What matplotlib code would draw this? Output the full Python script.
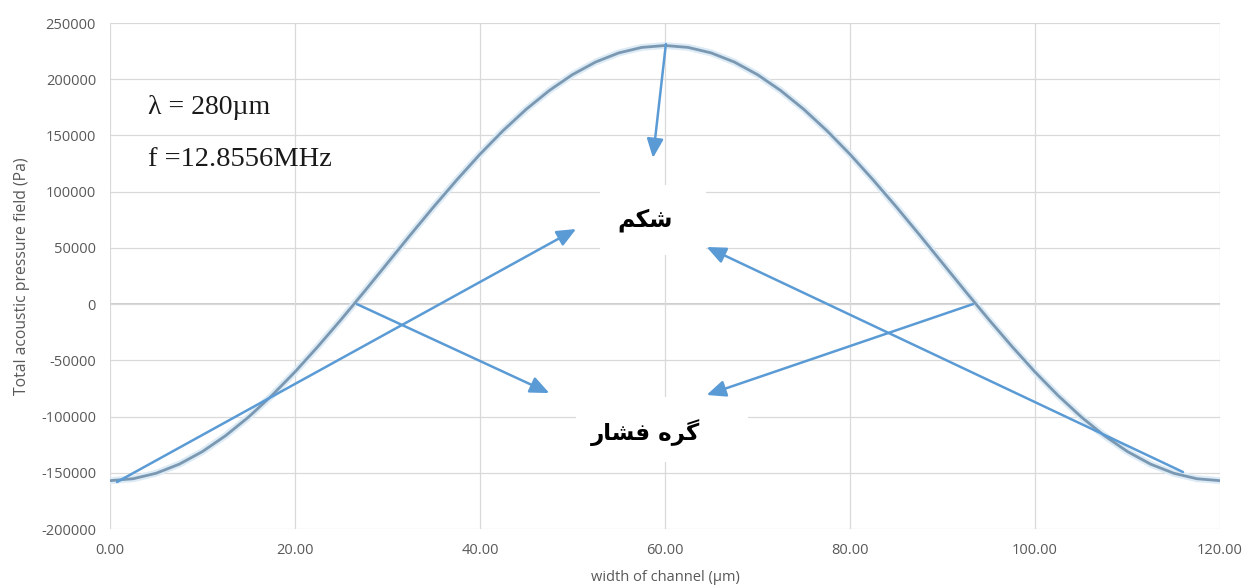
import matplotlib
matplotlib.use("Agg")
import matplotlib.pyplot as plt
from matplotlib.patches import Rectangle
from matplotlib.ticker import FuncFormatter, MultipleLocator

# standing-wave pressure across the channel width
width_um = [0.0, 2.5, 5.0, 7.5, 10.0, 12.5, 15.0, 17.5, 20.0, 22.5, 25.0, 27.5,
            30.0, 32.5, 35.0, 37.5, 40.0, 42.5, 45.0, 47.5, 50.0, 52.5, 55.0, 57.5,
            60.0, 62.5, 65.0, 67.5, 70.0, 72.5, 75.0, 77.5, 80.0, 82.5, 85.0, 87.5,
            90.0, 92.5, 95.0, 97.5, 100.0, 102.5, 105.0, 107.5, 110.0, 112.5, 115.0,
            117.5, 120.0]
pressure_pa = [-157000, -155300, -150400, -142300, -131100, -117000, -100300,
               -81300, -60300, -37500, -13600, 11200, 36500, 61800, 86600, 110500,
               133300, 154300, 173300, 190000, 204100, 215300, 223400, 228300,
               230000, 228300, 223400, 215300, 204100, 190000, 173300, 154300,
               133300, 110500, 86600, 61800, 36500, 11200, -13600, -37500, -60300,
               -81300, -100300, -117000, -131100, -142300, -150400, -155300, -157000]

wavelength_txt = "λ = 280µm"
freq_txt = "f =12.8556MHz"
# Persian labels, pre-shaped (presentation forms, visual order) since
# matplotlib has no Arabic text shaping: "شکم" (antinode), "گره فشار" (pressure node)
antinode_txt = "\uFEE2\uFB91\uFEB7"
node_txt = "\uFEAD\uFE8E\uFEB8\uFED3 \uFEE9\uFEAE\uFB94"

GRID = "#d9d9d9"
TEXT = "#595959"
ARROW = "#5b9bd5"

plt.rcParams["font.family"] = ["Open Sans", "DejaVu Sans"]

fig = plt.figure(figsize=(12.47, 5.87), dpi=100)
ax = fig.add_axes([0.0882, 0.0988, 0.8901, 0.862])

ax.plot(width_um, pressure_pa, color="#dcebf5", lw=5,
        solid_joinstyle="round", solid_capstyle="round", zorder=2)
ax.plot(width_um, pressure_pa, color="#7b98b2", lw=2.0,
        solid_joinstyle="round", zorder=3)

ax.set_xlim(0, 120)
ax.set_ylim(-200000, 250000)
ax.xaxis.set_major_locator(MultipleLocator(20))
ax.yaxis.set_major_locator(MultipleLocator(50000))
ax.xaxis.set_major_formatter(FuncFormatter(lambda v, p: f"{v:.2f}"))
ax.yaxis.set_major_formatter(FuncFormatter(lambda v, p: f"{v:.0f}"))
ax.grid(True, color=GRID, lw=0.9, zorder=0)
ax.axhline(0, color="#bfbfbf", lw=1.1, zorder=1)
for s in ax.spines.values():
    s.set_visible(False)
ax.tick_params(length=0, labelsize=10.5, labelcolor=TEXT)
ax.tick_params(axis="x", pad=10)
ax.tick_params(axis="y", pad=10)
ax.set_xlabel("width of channel (µm)", fontsize=10.5, color=TEXT, labelpad=9)
ax.set_ylabel("Total acoustic pressure field (Pa)", fontsize=11.3, color=TEXT)
ax.yaxis.set_label_coords(-0.072, 0.5)

ax.text(4.1, 175300, wavelength_txt, family="Liberation Serif", fontsize=20,
        va="center", ha="left", color="#1a1a1a")
ax.text(4.1, 128200, freq_txt, family="Liberation Serif", fontsize=20.5,
        va="center", ha="left", color="#1a1a1a")

# white label boxes that break the grid
ax.add_patch(Rectangle((52.97, 43700), 11.46, 62200, facecolor="white",
                       edgecolor="none", zorder=4))
ax.add_patch(Rectangle((50.4, -140400), 18.6, 57800, facecolor="white",
                       edgecolor="none", zorder=4))
ax.text(57.9, 74800, antinode_txt, family="DejaVu Sans", weight="bold",
        fontsize=17, ha="center", va="center", zorder=5)
ax.text(57.9, -114600, node_txt, family="DejaVu Sans", weight="bold",
        fontsize=16.5, ha="center", va="center", zorder=5)

# (tail, head) of each pointer
arrows = [
    ((60.1, 231300), (58.7, 130000)),
    ((0.76, -158200), (50.4, 66800)),
    ((116.0, -149300), (64.5, 50800)),
    ((26.7, 0), (47.5, -79100)),
    ((93.3, 0), (64.5, -80800)),
]
for tail, head in arrows:
    ax.annotate("", xy=head, xytext=tail, zorder=6,
                arrowprops=dict(arrowstyle="-|>,head_length=1.15,head_width=0.5",
                                color=ARROW, lw=1.8, shrinkA=0, shrinkB=0,
                                mutation_scale=10))

fig.savefig("out.png", dpi=100)
